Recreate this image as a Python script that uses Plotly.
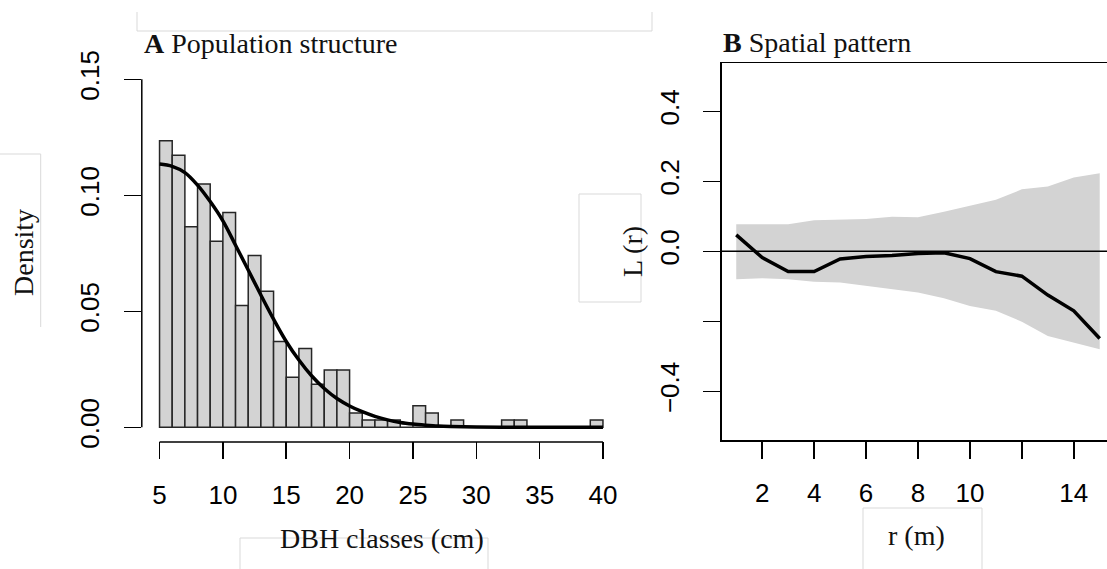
import plotly.graph_objects as go

W, H = 1107, 569

# ---------------- data: panel A (population structure) ----------------
dbh_bin_left = list(range(5, 40))  # 1-cm DBH classes, 5..40 cm
dbh_density = [0.1235, 0.1173, 0.0864, 0.1049, 0.0802, 0.0926, 0.0525, 0.0741,
               0.0586, 0.0370, 0.0216, 0.0340, 0.0185, 0.0247, 0.0247, 0.0062,
               0.0031, 0.0031, 0.0031, 0.0, 0.0093, 0.0062, 0.0, 0.0031,
               0.0, 0.0, 0.0, 0.0031, 0.0031, 0.0, 0.0, 0.0, 0.0, 0.0, 0.0031]
curve_x = [5, 6, 7, 8, 9, 10, 11, 12, 13, 14, 15, 16, 17, 18, 19, 20, 21, 22,
           23, 24, 25, 26, 27, 28, 30, 33, 36, 40]
curve_y = [0.1135, 0.1125, 0.1098, 0.1044, 0.0973, 0.0890, 0.0785, 0.0678,
           0.0570, 0.0466, 0.0370, 0.0290, 0.0222, 0.0167, 0.0124, 0.0092,
           0.0067, 0.0047, 0.0032, 0.0021, 0.0014, 0.0009, 0.0005, 0.0003,
           0.0001, 0.0, 0.0, 0.0]
xticks_A = [5, 10, 15, 20, 25, 30, 35, 40]
yticks_A = [0.0, 0.05, 0.10, 0.15]
yticktext_A = ["0.00", "0.05", "0.10", "0.15"]

# ---------------- data: panel B (spatial pattern) ----------------
r_m = [1, 2, 3, 4, 5, 6, 7, 8, 9, 10, 11, 12, 13, 14, 15]
L_obs = [0.047, -0.018, -0.058, -0.058, -0.022, -0.015, -0.012, -0.006,
         -0.004, -0.021, -0.058, -0.071, -0.125, -0.170, -0.249]
L_hi = [0.077, 0.077, 0.077, 0.089, 0.091, 0.092, 0.099, 0.097, 0.113,
        0.130, 0.147, 0.177, 0.185, 0.211, 0.223]
L_lo = [-0.080, -0.077, -0.080, -0.087, -0.089, -0.099, -0.109, -0.118,
        -0.134, -0.156, -0.170, -0.201, -0.242, -0.261, -0.280]
xticks_B = [2, 4, 6, 8, 10, 12, 14]
xticktext_B = ["2", "4", "6", "8", "10", "", "14"]
yticks_B = [-0.4, -0.2, 0.0, 0.2, 0.4]
yticktext_B = ["\u22120.4", "", "0.0", "0.2", "0.4"]


def px(x):
    return x / W


def py(y):
    return 1 - y / H


SANS = "Liberation Sans, Arial, Helvetica, sans-serif"
SERIF = "Liberation Serif, Times New Roman, serif"
GREY = "#d3d3d3"

fig = go.Figure()

fig.add_trace(go.Bar(
    x=[b + 0.5 for b in dbh_bin_left], y=dbh_density, width=1,
    marker=dict(color=GREY, line=dict(color="#262626", width=1.5)),
    xaxis="x", yaxis="y", showlegend=False, hoverinfo="skip"))
fig.add_trace(go.Scatter(
    x=curve_x, y=curve_y, mode="lines", line=dict(color="black", width=3.5, shape="spline"),
    xaxis="x", yaxis="y", showlegend=False))

fig.add_trace(go.Scatter(
    x=r_m, y=L_lo, mode="lines", line=dict(width=0, color=GREY),
    xaxis="x2", yaxis="y2", showlegend=False))
fig.add_trace(go.Scatter(
    x=r_m, y=L_hi, mode="lines", line=dict(width=0, color=GREY), fill="tonexty",
    fillcolor=GREY, xaxis="x2", yaxis="y2", showlegend=False))
fig.add_trace(go.Scatter(
    x=r_m, y=L_obs, mode="lines", line=dict(color="black", width=3.5),
    xaxis="x2", yaxis="y2", showlegend=False))

tick_common = dict(ticks="outside", ticklen=17, tickwidth=1.5, tickcolor="black",
                   showgrid=False, zeroline=False, automargin=False,
                   tickfont=dict(family=SANS, size=26, color="black"))

fig.update_layout(
    width=W, height=H, margin=dict(l=0, r=0, t=0, b=0, pad=0),
    paper_bgcolor="white", plot_bgcolor="white", bargap=0,
    xaxis=dict(domain=[px(141.8), px(620.7)], range=[3.6, 41.4], anchor="y",
               tickvals=xticks_A, showline=False, ticklabelstandoff=14, **tick_common),
    yaxis=dict(domain=[py(441.2), py(65.4)], range=[-0.006, 0.156], anchor="x",
               tickvals=yticks_A, ticktext=yticktext_A, tickangle=-90,
               showline=False, ticklabelstandoff=14, **tick_common),
    xaxis2=dict(domain=[px(721.7), 1.0], range=[0.44, 15.28], anchor="y2",
                tickvals=xticks_B, ticktext=xticktext_B, showline=True, mirror=True,
                linecolor="black", linewidth=1.5, ticklabelstandoff=12, **tick_common),
    yaxis2=dict(domain=[py(440), py(63.3)], range=[-0.539, 0.537], anchor="x2",
                tickvals=yticks_B, ticktext=yticktext_B, tickangle=-90,
                showline=True, mirror=False, linecolor="black", linewidth=1.5,
                ticklabelstandoff=14, **tick_common),
)

shapes = [
    # panel A axis lines (R style, spanning tick range only)
    dict(type="line", xref="x", yref="paper", x0=5, x1=40, y0=py(442), y1=py(442),
         line=dict(color="black", width=1.5)),
    dict(type="line", xref="paper", yref="y", x0=px(141.8), x1=px(141.8), y0=0, y1=0.15,
         line=dict(color="black", width=1.5)),
    # panel B zero line
    dict(type="line", xref="paper", yref="y2", x0=px(721.7), x1=1.0, y0=0, y1=0,
         line=dict(color="black", width=1.5)),
]
# faint label boxes present in the reference
faint = "#d9d9d9"
for (x0, y0, x1, y1) in [(137, 12, 137, 31), (137, 31, 652, 31), (652, 12, 652, 31),
                         (0, 154, 40.7, 154), (40.7, 154, 40.7, 327),
                         (240, 538, 488, 538), (240, 538, 240, 569), (488, 538, 488, 569),
                         (863, 508, 982, 508), (863, 508, 863, 569), (982, 508, 982, 569),
                         (579, 194, 641, 194), (579, 302, 641, 302), (579, 194, 579, 302),
                         (641, 194, 641, 302)]:
    shapes.append(dict(type="line", xref="paper", yref="paper", x0=px(x0), x1=px(x1),
                       y0=py(y0), y1=py(y1), line=dict(color=faint, width=1)))
fig.update_layout(shapes=shapes)

ann = [
    dict(text="<b>A</b> Population structure", x=px(142), y=py(43), xanchor="left", yanchor="middle",
         font=dict(family=SERIF, size=28, color="#111")),
    dict(text="<b>B</b> Spatial pattern", x=px(721), y=py(42), xanchor="left", yanchor="middle",
         font=dict(family=SERIF, size=28, color="#111")),
    dict(text="Density", x=px(23), y=py(253), textangle=-90, xanchor="center", yanchor="middle",
         font=dict(family=SERIF, size=28, color="#111")),
    dict(text="L (r)", x=px(632), y=py(252), textangle=-90, xanchor="center", yanchor="middle",
         font=dict(family=SERIF, size=28, color="#111")),
    dict(text="DBH classes (cm)", x=px(382), y=py(538), xanchor="center", yanchor="middle",
         font=dict(family=SERIF, size=28, color="#111")),
    dict(text="r (m)", x=px(916), y=py(535), xanchor="center", yanchor="middle",
         font=dict(family=SERIF, size=28, color="#111")),
]
for a in ann:
    a.update(xref="paper", yref="paper", showarrow=False)
fig.update_layout(annotations=ann)

fig.write_html("out.html", config={"displayModeBar": False, "staticPlot": True},
               post_script="document.body.style.margin='0px';document.body.style.overflow='hidden';")
